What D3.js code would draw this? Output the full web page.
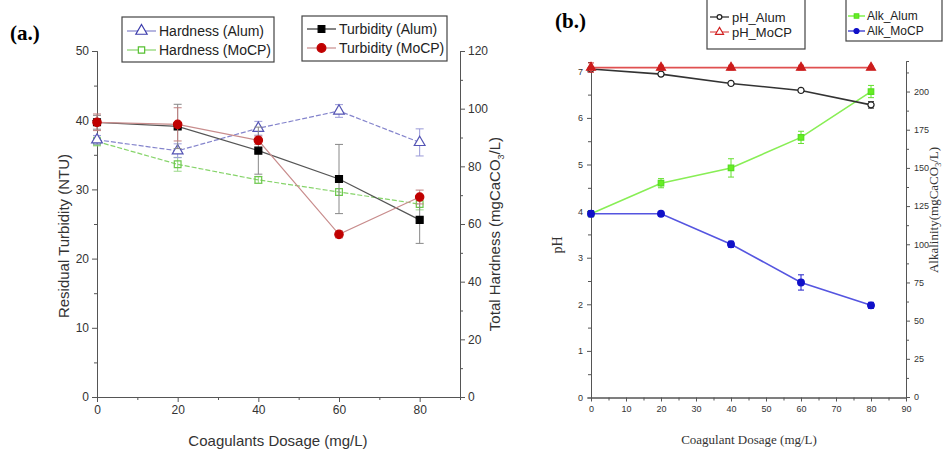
<!DOCTYPE html>
<meta charset="utf-8">
<script src="https://d3js.org/d3.v7.min.js"></script>
<style>
  body { margin: 0; background: #fff; }
  .tick text { fill: #333; }
</style>
<div id="my_dataviz"></div>
<script>

// ---- data ----
var dosage = [0, 20, 40, 60, 80]

// panel (a)
var turbAlum = [39.7, 39.1, 35.6, 31.5, 25.6]
var turbAlumErr = [1.0, 3.2, 3.4, 5.0, 3.4]
var turbMocp = [39.7, 39.4, 37.1, 23.5, 28.9]
var turbMocpErr = [1.2, 2.4, 0.6, 0.5, 1.0]
var hardAlum = [89.2, 85.4, 93.2, 99.2, 88.3]
var hardAlumErr = [1.5, 2.4, 2.4, 2.2, 4.7]
var hardMocp = [88.6, 80.7, 75.3, 71.1, 66.9]
var hardMocpErr = [1.5, 2.4, 1.2, 1.2, 2.0]

// panel (b)
var phAlum = [7.05, 6.94, 6.74, 6.59, 6.28]
var phAlumErr = [0.03, 0.03, 0.03, 0.03, 0.07]
var phMocp = [7.08, 7.08, 7.08, 7.08, 7.08]
var phMocpErr = [0.1, 0.05, 0.05, 0.05, 0.03]
var alkAlum = [120, 140, 150, 170, 200]
var alkAlumErr = [2, 3, 6, 4, 4]
var alkMocp = [120, 120, 100, 75, 60]
var alkMocpErr = [2, 1, 2, 5, 2]

var xTicksA = [0, 20, 40, 60, 80]
var yTicksA = [0, 10, 20, 30, 40, 50]
var yRTicksA = [0, 20, 40, 60, 80, 100, 120]
var xTicksB = [0, 10, 20, 30, 40, 50, 60, 70, 80, 90]
var yTicksB = [0, 1, 2, 3, 4, 5, 6, 7]
var yRTicksB = [0, 25, 50, 75, 100, 125, 150, 175, 200]

var svg = d3.select("#my_dataviz")
  .append("svg")
    .attr("width", 944)
    .attr("height", 451)
    .style("font-family", "Liberation Sans, Arial, sans-serif")

// ================= panel (a) =================
var xa = d3.scaleLinear().domain([0, 90]).range([97, 460])
var ya = d3.scaleLinear().domain([0, 50]).range([397, 51])
var yra = d3.scaleLinear().domain([0, 120]).range([397, 51])

function styleAxis(g, fs) {
  g.selectAll("path, line").attr("stroke", "#555")
  g.selectAll("text").style("font-size", fs + "px").attr("fill", "#333")
}

// minor ticks
svg.append("g").attr("transform", "translate(0,397)")
  .call(d3.axisBottom(xa).tickValues([10, 30, 50, 70, 90]).tickSize(3).tickFormat(""))
  .call(styleAxis, 11)
svg.append("g").attr("transform", "translate(0,397)")
  .call(d3.axisBottom(xa).tickValues(xTicksA).tickSize(5).tickSizeOuter(0).tickPadding(3))
  .call(styleAxis, 12)
svg.append("g").attr("transform", "translate(97,0)")
  .call(d3.axisLeft(ya).tickValues([5, 15, 25, 35, 45]).tickSize(3).tickFormat(""))
  .call(styleAxis, 11)
svg.append("g").attr("transform", "translate(97,0)")
  .call(d3.axisLeft(ya).tickValues(yTicksA).tickSize(5).tickSizeOuter(0).tickPadding(3))
  .call(styleAxis, 12)
svg.append("g").attr("transform", "translate(460,0)")
  .call(d3.axisRight(yra).tickValues([10, 30, 50, 70, 90, 110]).tickSize(3).tickFormat(""))
  .call(styleAxis, 11)
svg.append("g").attr("transform", "translate(460,0)")
  .call(d3.axisRight(yra).tickValues(yRTicksA).tickSize(5).tickSizeOuter(0).tickPadding(3))
  .call(styleAxis, 12)

// axis titles
svg.append("text").attr("x", 278).attr("y", 446).attr("text-anchor", "middle")
  .style("font-size", "15px").attr("fill", "#333").text("Coagulants Dosage (mg/L)")
svg.append("text").attr("transform", "translate(69,236) rotate(-90)").attr("text-anchor", "middle")
  .style("font-size", "15px").attr("fill", "#333").text("Residual Turbidity (NTU)")
var rt = svg.append("text").attr("transform", "translate(500,234) rotate(-90)").attr("text-anchor", "middle")
  .style("font-size", "15px").attr("fill", "#333")
rt.append("tspan").text("Total Hardness (mgCaCO")
rt.append("tspan").attr("dy", 4).style("font-size", "9px").text("3")
rt.append("tspan").attr("dy", -4).text("/L)")

svg.append("text").attr("x", 10).attr("y", 40)
  .style("font-family", "Liberation Serif, Times New Roman, serif")
  .style("font-size", "21px").style("font-weight", "bold").text("(a.)")

function marker(g, shape, x, y, size, stroke, fill) {
  var sym = d3.symbol().type(shape).size(size)
  g.append("path").attr("d", sym()).attr("transform", "translate(" + x + "," + y + ")")
    .attr("stroke", stroke).attr("stroke-width", 1.2).attr("fill", fill)
}

function drawSeries(xs, ys, vals, errs, opt) {
  var g = svg.append("g")
  // error bars
  g.selectAll(".err").data(vals).enter().append("path")
    .attr("d", function(d, i) {
      var x = xs(dosage[i]), y0 = ys(d - errs[i]), y1 = ys(d + errs[i]), c = opt.cap
      return "M" + x + "," + y0 + "V" + y1 + "M" + (x - c) + "," + y0 + "H" + (x + c) + "M" + (x - c) + "," + y1 + "H" + (x + c)
    })
    .attr("stroke", opt.errColor).attr("stroke-width", 1).attr("fill", "none")
  var line = d3.line().x(function(d, i) { return xs(dosage[i]) }).y(function(d) { return ys(d) })
  g.append("path").datum(vals).attr("d", line)
    .attr("fill", "none").attr("stroke", opt.lineColor).attr("stroke-width", opt.lw)
    .attr("stroke-dasharray", opt.dash || null)
  vals.forEach(function(d, i) {
    marker(g, opt.shape, xs(dosage[i]), ys(d), opt.size, opt.stroke, opt.fill)
  })
}

drawSeries(xa, yra, hardMocp, hardMocpErr, {errColor: "#9ad888", lineColor: "#86d46a", lw: 1.2, dash: "5,2",
  shape: d3.symbolSquare, size: 45, stroke: "#6cc84c", fill: "none", cap: 4})
drawSeries(xa, yra, hardAlum, hardAlumErr, {errColor: "#9a9ad8", lineColor: "#8484cc", lw: 1.2, dash: "5,2",
  shape: d3.symbolTriangle, size: 50, stroke: "#5454b4", fill: "#fff", cap: 4})
drawSeries(xa, ya, turbAlum, turbAlumErr, {errColor: "#888", lineColor: "#555", lw: 1.2,
  shape: d3.symbolSquare, size: 48, stroke: "#000", fill: "#000", cap: 4})
drawSeries(xa, ya, turbMocp, turbMocpErr, {errColor: "#c08080", lineColor: "#c88c8c", lw: 1.2,
  shape: d3.symbolCircle, size: 55, stroke: "#c00000", fill: "#c00000", cap: 4})

// legends
function legend(x, y, w, h, items, opt) {
  svg.append("rect").attr("x", x).attr("y", y).attr("width", w).attr("height", h)
    .attr("fill", "#fff").attr("stroke", "#444").attr("stroke-width", 1.2)
  items.forEach(function(it) {
    var cy = y + it.dy
    svg.append("line").attr("x1", x + opt.l0).attr("x2", x + opt.l1).attr("y1", cy).attr("y2", cy)
      .attr("stroke", it.lineColor).attr("stroke-width", 1.2)
    marker(svg, it.shape, x + (opt.l0 + opt.l1) / 2, cy, it.size, it.stroke, it.fill)
    svg.append("text").attr("x", x + opt.tx).attr("y", cy + opt.fs * 0.36).style("font-size", opt.fs + "px")
      .attr("fill", "#222").text(it.label)
  })
}

legend(122, 17, 152, 45, [
  {dy: 14, label: "Hardness (Alum)", lineColor: "#8484cc", shape: d3.symbolTriangle, size: 55, stroke: "#3c3cac", fill: "#fff"},
  {dy: 33, label: "Hardness (MoCP)", lineColor: "#86d46a", shape: d3.symbolSquare, size: 40, stroke: "#55c030", fill: "#fff"}
], {fs: 14, l0: 5, l1: 34, tx: 37})
legend(302, 16, 145, 45, [
  {dy: 13, label: "Turbidity (Alum)", lineColor: "#333", shape: d3.symbolSquare, size: 45, stroke: "#000", fill: "#000"},
  {dy: 32, label: "Turbidity (MoCP)", lineColor: "#c88c8c", shape: d3.symbolCircle, size: 60, stroke: "#c00000", fill: "#c00000"}
], {fs: 14, l0: 5, l1: 34, tx: 37})

// ================= panel (b) =================
var xb = d3.scaleLinear().domain([0, 90]).range([591, 906])
var yb = d3.scaleLinear().domain([0, 7.2]).range([397.5, 62])
var yrb = d3.scaleLinear().domain([0, 220]).range([397, 61])

var minorX = d3.range(5, 90, 10)
var minorY = d3.range(0.5, 7.2, 1)
var minorYR = d3.range(12.5, 220, 25)

svg.append("g").attr("transform", "translate(0,397.5)")
  .call(d3.axisBottom(xb).tickValues(minorX).tickSize(3).tickFormat(""))
  .call(styleAxis, 9)
svg.append("g").attr("transform", "translate(0,397.5)")
  .call(d3.axisBottom(xb).tickValues(xTicksB).tickSize(4).tickSizeOuter(0).tickPadding(4))
  .call(styleAxis, 9)
svg.append("g").attr("transform", "translate(591,0)")
  .call(d3.axisLeft(yb).tickValues(minorY).tickSize(3).tickFormat(""))
  .call(styleAxis, 9)
svg.append("g").attr("transform", "translate(591,0)")
  .call(d3.axisLeft(yb).tickValues(yTicksB).tickSize(4).tickSizeOuter(0).tickPadding(4))
  .call(styleAxis, 9)
svg.append("g").attr("transform", "translate(906,0)")
  .call(d3.axisRight(yrb).tickValues(minorYR).tickSize(3).tickFormat(""))
  .call(styleAxis, 9)
svg.append("g").attr("transform", "translate(906,0)")
  .call(d3.axisRight(yrb).tickValues(yRTicksB).tickSize(4).tickSizeOuter(0).tickPadding(4))
  .call(styleAxis, 9)

var serif = "Liberation Serif, Times New Roman, serif"
svg.append("text").attr("x", 749).attr("y", 444).attr("text-anchor", "middle")
  .style("font-family", serif).style("font-size", "13px").attr("fill", "#333").text("Coagulant Dosage (mg/L)")
svg.append("text").attr("transform", "translate(562,245) rotate(-90)").attr("text-anchor", "middle")
  .style("font-family", serif).style("font-size", "14px").attr("fill", "#333").text("pH")
var at = svg.append("text").attr("transform", "translate(938,210) rotate(-90)").attr("text-anchor", "middle")
  .style("font-family", serif).style("font-size", "13px").attr("fill", "#333")
at.append("tspan").text("Alkalinity(mgCaCO")
at.append("tspan").attr("dy", 3).style("font-size", "8px").text("3")
at.append("tspan").attr("dy", -3).text("/L)")

svg.append("text").attr("x", 555).attr("y", 28)
  .style("font-family", serif).style("font-size", "21px").style("font-weight", "bold").text("(b.)")

drawSeries(xb, yrb, alkAlum, alkAlumErr, {errColor: "#66e030", lineColor: "#88ee55", lw: 1.6,
  shape: d3.symbolSquare, size: 30, stroke: "#55dd22", fill: "#66ee22", cap: 3})
drawSeries(xb, yrb, alkMocp, alkMocpErr, {errColor: "#2020c8", lineColor: "#5555e0", lw: 1.6,
  shape: d3.symbolCircle, size: 35, stroke: "#1010c8", fill: "#1010c8", cap: 3})
drawSeries(xb, yb, phAlum, phAlumErr, {errColor: "#333", lineColor: "#333", lw: 1.6,
  shape: d3.symbolCircle, size: 30, stroke: "#222", fill: "#fff", cap: 3})
drawSeries(xb, yb, phMocp, phMocpErr, {errColor: "#d03030", lineColor: "#e05050", lw: 1.6,
  shape: d3.symbolTriangle, size: 35, stroke: "#cc1c1c", fill: "#cc1c1c", cap: 3})

legend(707, -5, 98, 54, [
  {dy: 22, label: "pH_Alum", lineColor: "#222", shape: d3.symbolCircle, size: 18, stroke: "#222", fill: "#fff"},
  {dy: 37, label: "pH_MoCP", lineColor: "#e05050", shape: d3.symbolTriangle, size: 28, stroke: "#d02020", fill: "#fff"}
], {fs: 13, l0: 3, l1: 22, tx: 25})
legend(846, -5, 96, 46, [
  {dy: 21, label: "Alk_Alum", lineColor: "#66ee22", shape: d3.symbolSquare, size: 20, stroke: "#55dd22", fill: "#66ee22"},
  {dy: 36, label: "Alk_MoCP", lineColor: "#2020c8", shape: d3.symbolCircle, size: 20, stroke: "#1010c8", fill: "#1010c8"}
], {fs: 12, l0: 2, l1: 19, tx: 21})

</script>
